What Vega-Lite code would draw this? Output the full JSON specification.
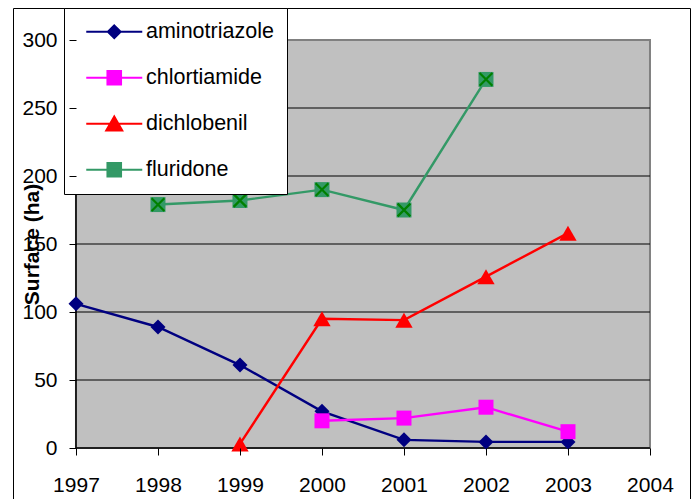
{
  "$schema": "https://vega.github.io/schema/vega-lite/v6.json",
  "width": 677,
  "height": 497,
  "autosize": {"type": "none"},
  "padding": {"left": 13, "top": 8, "right": 8, "bottom": 0},
  "background": "white",
  "config": {
    "view": {"stroke": "black", "strokeWidth": 1},
    "font": "Liberation Sans"
  },
  "data": {
    "values": [
      {"series": "aminotriazole", "year": 1997, "value": 106},
      {"series": "aminotriazole", "year": 1998, "value": 89},
      {"series": "aminotriazole", "year": 1999, "value": 61},
      {"series": "aminotriazole", "year": 2000, "value": 27},
      {"series": "aminotriazole", "year": 2001, "value": 6},
      {"series": "aminotriazole", "year": 2002, "value": 4.5},
      {"series": "aminotriazole", "year": 2003, "value": 4.5},
      {"series": "chlortiamide", "year": 2000, "value": 20},
      {"series": "chlortiamide", "year": 2001, "value": 22},
      {"series": "chlortiamide", "year": 2002, "value": 30},
      {"series": "chlortiamide", "year": 2003, "value": 12},
      {"series": "dichlobenil", "year": 1999, "value": 3},
      {"series": "dichlobenil", "year": 2000, "value": 95},
      {"series": "dichlobenil", "year": 2001, "value": 94},
      {"series": "dichlobenil", "year": 2002, "value": 126},
      {"series": "dichlobenil", "year": 2003, "value": 158},
      {"series": "fluridone", "year": 1998, "value": 179},
      {"series": "fluridone", "year": 1999, "value": 182},
      {"series": "fluridone", "year": 2000, "value": 190},
      {"series": "fluridone", "year": 2001, "value": 175},
      {"series": "fluridone", "year": 2002, "value": 271}
    ]
  },
  "layer": [
    {
      "transform": [{"filter": "datum.year === 1997"}],
      "mark": {"type": "rect", "fill": "#C0C0C0", "stroke": "#808080", "strokeWidth": 2},
      "encoding": {
        "x": {"datum": 1997, "type": "quantitative", "scale": {"domain": [1996.232, 2004.488], "nice": false, "zero": false},
          "axis": {
            "values": [1997, 1998, 1999, 2000, 2001, 2002, 2003, 2004],
            "format": "d", "offset": -57, "domain": false, "grid": false, "ticks": true,
            "tickSize": 7, "tickColor": "black", "tickWidth": 1,
            "labelFont": "Liberation Sans", "labelFontSize": 21, "labelColor": "black",
            "labelPadding": 19, "labelFlush": false, "labelOverlap": false, "title": null, "zindex": 1
          }},
        "x2": {"datum": 2004},
        "y": {"datum": 0, "type": "quantitative", "scale": {"domain": [-41.9, 323.53], "nice": false, "zero": false},
          "axis": {
            "values": [0, 50, 100, 150, 200, 250, 300],
            "offset": -63, "domain": false, "grid": false, "ticks": true,
            "tickSize": 7, "tickColor": "black", "tickWidth": 1,
            "labelFont": "Liberation Sans", "labelFontSize": 21, "labelColor": "black",
            "labelPadding": 12, "labelOverlap": false,
            "title": "Surface (ha)", "titleFont": "Liberation Sans", "titleFontSize": 21,
            "titleFontWeight": "bold", "titleColor": "black", "titleAngle": 270,
            "titleAlign": "center", "titleBaseline": "middle", "titleX": -44, "titleY": 236, "zindex": 1
          }},
        "y2": {"datum": 300}
      }
    },
    {
      "data": {"values": [{"g": 50}, {"g": 100}, {"g": 150}, {"g": 200}, {"g": 250}]},
      "mark": {"type": "rule", "color": "black", "strokeWidth": 1},
      "encoding": {
        "x": {"datum": 1997, "type": "quantitative"},
        "x2": {"datum": 2004},
        "y": {"field": "g", "type": "quantitative"}
      }
    },
    {
      "transform": [{"filter": "datum.year === 1997"}],
      "mark": {"type": "rule", "color": "black", "strokeWidth": 1.5},
      "encoding": {
        "x": {"datum": 1997, "type": "quantitative"},
        "y": {"datum": 0, "type": "quantitative"},
        "y2": {"datum": 300}
      }
    },
    {
      "transform": [{"filter": "datum.year === 1997"}],
      "mark": {"type": "rule", "color": "black", "strokeWidth": 1.5},
      "encoding": {
        "x": {"datum": 1997, "type": "quantitative"},
        "x2": {"datum": 2004},
        "y": {"datum": 0, "type": "quantitative"}
      }
    },
    {
      "transform": [{"filter": "datum.series === 'aminotriazole'"}],
      "layer": [
        {"mark": {"type": "line", "strokeWidth": 2.4, "color": "#000080"}},
        {"mark": {"type": "point", "shape": "diamond", "size": 225, "filled": true, "opacity": 1, "color": "#000080"}}
      ],
      "encoding": {
        "x": {"field": "year", "type": "quantitative"},
        "y": {"field": "value", "type": "quantitative"}
      }
    },
    {
      "transform": [{"filter": "datum.series === 'chlortiamide'"}],
      "layer": [
        {"mark": {"type": "line", "strokeWidth": 2.4, "color": "#FF00FF"}},
        {"mark": {"type": "point", "shape": "square", "size": 225, "filled": true, "opacity": 1, "color": "#FF00FF"}}
      ],
      "encoding": {
        "x": {"field": "year", "type": "quantitative"},
        "y": {"field": "value", "type": "quantitative"}
      }
    },
    {
      "transform": [{"filter": "datum.series === 'dichlobenil'"}],
      "layer": [
        {"mark": {"type": "line", "strokeWidth": 2.4, "color": "#FF0000"}},
        {"mark": {"type": "point", "shape": "triangle-up", "size": 300, "filled": true, "opacity": 1, "color": "#FF0000"}}
      ],
      "encoding": {
        "x": {"field": "year", "type": "quantitative"},
        "y": {"field": "value", "type": "quantitative"}
      }
    },
    {
      "transform": [{"filter": "datum.series === 'fluridone'"}],
      "layer": [
        {"mark": {"type": "line", "strokeWidth": 2.4, "color": "#339966"}},
        {"mark": {"type": "point", "shape": "square", "size": 225, "filled": true, "opacity": 1, "color": "#339966"}},
        {"mark": {"type": "point", "shape": "M-0.85,-0.85L0.85,0.85M-0.85,0.85L0.85,-0.85", "size": 225, "filled": false, "opacity": 1, "stroke": "#008000", "strokeWidth": 2.2}}
      ],
      "encoding": {
        "x": {"field": "year", "type": "quantitative"},
        "y": {"field": "value", "type": "quantitative"}
      }
    },
    {
      "transform": [{"filter": "datum.value < -1000"}],
      "mark": {"type": "point", "filled": true, "opacity": 1, "size": 256, "strokeWidth": 2},
      "encoding": {
        "x": {"field": "year", "type": "quantitative"},
        "y": {"field": "value", "type": "quantitative"},
        "color": {
          "field": "series",
          "type": "nominal",
          "scale": {
            "domain": ["aminotriazole", "chlortiamide", "dichlobenil", "fluridone"],
            "range": ["#000080", "#FF00FF", "#FF0000", "#339966"]
          },
          "legend": {
            "title": null, "orient": "none", "legendX": 51, "legendY": 0,
            "fillColor": "white", "strokeColor": "black", "padding": 13, "rowPadding": 23,
            "symbolSize": 256, "symbolStrokeWidth": 2, "symbolOffset": 26.5, "labelOffset": 21,
            "labelFont": "Liberation Sans", "labelFontSize": 21.5, "labelColor": "black",
            "labelExpr": "datum.label + '\u00a0'", "labelLimit": 400
          }
        },
        "stroke": {
          "field": "series",
          "type": "nominal",
          "scale": {
            "domain": ["aminotriazole", "chlortiamide", "dichlobenil", "fluridone"],
            "range": ["#000080", "#FF00FF", "#FF0000", "#339966"]
          },
          "legend": {
            "title": null, "orient": "none", "legendX": 51, "legendY": 0,
            "fillColor": "white", "strokeColor": "black", "padding": 13, "rowPadding": 23,
            "symbolSize": 256, "symbolStrokeWidth": 2, "symbolOffset": 26.5, "labelOffset": 21,
            "labelFont": "Liberation Sans", "labelFontSize": 21.5, "labelColor": "black",
            "labelExpr": "datum.label + '\u00a0'", "labelLimit": 400
          }
        },
        "shape": {
          "field": "series",
          "type": "nominal",
          "scale": {
            "domain": ["aminotriazole", "chlortiamide", "dichlobenil", "fluridone"],
            "range": [
              "M-3.5,0L3.5,0M0,-0.8L0.8,0L0,0.8L-0.8,0Z",
              "M-3.5,0L3.5,0M-0.85,-0.85L0.85,-0.85L0.85,0.85L-0.85,0.85Z",
              "M-3.5,0L3.5,0M0,-0.9L1.0,0.85L-1.0,0.85Z",
              "M-3.5,0L3.5,0M-0.85,-0.85L0.85,-0.85L0.85,0.85L-0.85,0.85Z"
            ]
          },
          "legend": {
            "title": null, "orient": "none", "legendX": 51, "legendY": 0,
            "fillColor": "white", "strokeColor": "black", "padding": 13, "rowPadding": 23,
            "symbolSize": 256, "symbolStrokeWidth": 2, "symbolOffset": 26.5, "labelOffset": 21,
            "labelFont": "Liberation Sans", "labelFontSize": 21.5, "labelColor": "black",
            "labelExpr": "datum.label + '\u00a0'", "labelLimit": 400
          }
        }
      }
    }
  ]
}
